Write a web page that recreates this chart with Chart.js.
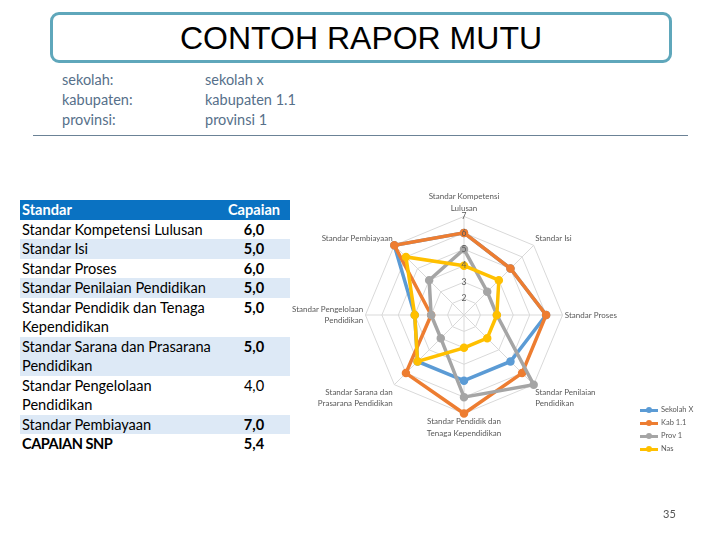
<!DOCTYPE html>
<html>
<head>
<meta charset="utf-8">
<script src="https://cdn.jsdelivr.net/npm/chart.js@4.4.1/dist/chart.umd.min.js"></script>
<style>
  body { margin: 0; background: #fff; font-family: Lato, "Open Sans", sans-serif; }
  #page { position: relative; width: 720px; height: 540px; overflow: hidden; }
  #title-box {
    position: absolute; left: 50px; top: 12px; width: 616px; height: 45px;
    border: 3px solid #5fa7bb; border-radius: 9px;
    text-align: center; font-family: "Liberation Sans", Arial, sans-serif;
    font-size: 32px; line-height: 47px; color: #000;
  }
  .info { position: absolute; font-size: 14.5px; color: #56708a; line-height: 20px; }
  #rule { position: absolute; left: 33px; top: 135px; width: 655px; height: 1px; background: #6b8296; }
  #tbl { position: absolute; left: 20px; top: 200px; width: 270px; border-collapse: collapse; font-size: 14.6px; }
  #tbl td { padding: 0 2px; line-height: 19.5px; vertical-align: top; color: #000; }
  #tbl tr.h td { background: #0a72c2; color: #fff; font-weight: bold; }
  #tbl tr.alt td { background: #dde9f6; }
  #tbl td.v { text-align: center; width: 60px; padding-right: 6px; }
  #tbl td.b { font-weight: bold; }
  #chart { position: absolute; left: 274px; top: 191px; }
  #legend { position: absolute; left: 640px; top: 403px; font-size: 7.5px; color: #595959; }
  #legend div { height: 13px; line-height: 13px; white-space: nowrap; }
  #legend span.sw { display: inline-block; position: relative; width: 18px; height: 3px; vertical-align: middle; margin-right: 3px; }
  #legend span.sw i { position: absolute; left: 6px; top: -2px; width: 6px; height: 6px; border-radius: 3px; }
  #pnum { position: absolute; left: 663px; top: 507px; font-size: 11px; color: #555; }
</style>
</head>
<body>
<div id="page">
  <div id="title-box">CONTOH RAPOR MUTU</div>
  <div class="info" style="left:62px; top:70px;">sekolah:<br>kabupaten:<br>provinsi:</div>
  <div class="info" style="left:205px; top:70px;">sekolah x<br>kabupaten 1.1<br>provinsi 1</div>
  <div id="rule"></div>
  <table id="tbl"></table>
  <canvas id="chart" width="380" height="248"></canvas>
  <div id="legend"></div>
  <div id="pnum">35</div>
</div>
<script>
const standards = [
  "Standar Kompetensi Lulusan",
  "Standar Isi",
  "Standar Proses",
  "Standar Penilaian Pendidikan",
  "Standar Pendidik dan Tenaga Kependidikan",
  "Standar Sarana dan Prasarana Pendidikan",
  "Standar Pengelolaan Pendidikan",
  "Standar Pembiayaan"
];
const axisLabels = [
  ["Standar Kompetensi", "Lulusan"],
  "Standar Isi",
  "Standar Proses",
  ["Standar Penilaian", "Pendidikan"],
  ["Standar Pendidik dan", "Tenaga Kependidikan"],
  ["Standar Sarana dan", "Prasarana Pendidikan"],
  ["Standar Pengelolaan", "Pendidikan"],
  "Standar Pembiayaan"
];
const capaian = ["6,0", "5,0", "6,0", "5,0", "5,0", "5,0", "4,0", "7,0"];
const capaianSNP = "5,4";

const seriesNames = ["Sekolah X", "Kab 1.1", "Prov 1", "Nas"];
const sekolahX = [6, 5, 6, 5, 5, 5, 4, 7];
const kab = [6, 5, 6, 6, 7, 6, 3, 7];
const prov = [5, 3, 3, 7, 6, 3, 3, 4];
const nas = [4, 4, 3, 3, 3, 5, 4, 6];
const seriesColors = ["#5b9bd5", "#ed7d31", "#a5a5a5", "#ffc000"];
const tickMin = 1;
const tickMax = 7;

// table on the left
const tbl = document.getElementById("tbl");
let rows = '<tr class="h"><td>Standar</td><td class="v">Capaian</td></tr>';
standards.forEach((s, i) => {
  const cls = i % 2 === 1 ? ' class="alt"' : "";
  const bold = capaian[i] === "4,0" ? "" : " b";
  rows += `<tr${cls}><td>${s}</td><td class="v${bold}">${capaian[i]}</td></tr>`;
});
rows += `<tr><td style="font-weight:bold;letter-spacing:-0.5px">CAPAIAN SNP</td><td class="v b">${capaianSNP}</td></tr>`;
tbl.innerHTML = rows;

// legend
const legendEl = document.getElementById("legend");
seriesNames.forEach((n, i) => {
  const d = document.createElement("div");
  d.innerHTML = `<span class="sw" style="background:${seriesColors[i]}"><i style="background:${seriesColors[i]}"></i></span>${n}`;
  legendEl.appendChild(d);
});

const allSeries = [sekolahX, kab, prov, nas];
new Chart(document.getElementById("chart"), {
  type: "radar",
  data: {
    labels: axisLabels,
    datasets: allSeries.map((data, i) => ({
      label: seriesNames[i],
      data,
      borderColor: seriesColors[i],
      backgroundColor: seriesColors[i],
      pointBackgroundColor: seriesColors[i],
      pointBorderColor: seriesColors[i],
      pointRadius: 2.5,
      borderWidth: 3.5,
      fill: false,
      order: allSeries.length - i
    }))
  },
  options: {
    responsive: false,
    animation: false,
    devicePixelRatio: 1,
    layout: { padding: 0 },
    plugins: { legend: { display: false }, tooltip: { enabled: false } },
    scales: {
      r: {
        min: tickMin,
        max: tickMax,
        ticks: {
          stepSize: 1,
          z: 1,
          showLabelBackdrop: false,
          color: "#595959",
          font: { family: "Lato", size: 8.5 }
        },
        grid: { color: "#d9d9d9", lineWidth: 1 },
        angleLines: { color: "#d9d9d9" },
        pointLabels: {
          color: "#595959",
          padding: -4,
          font: { family: "Lato", size: 8, lineHeight: 1.45 }
        }
      }
    }
  }
});
</script>
</body>
</html>
